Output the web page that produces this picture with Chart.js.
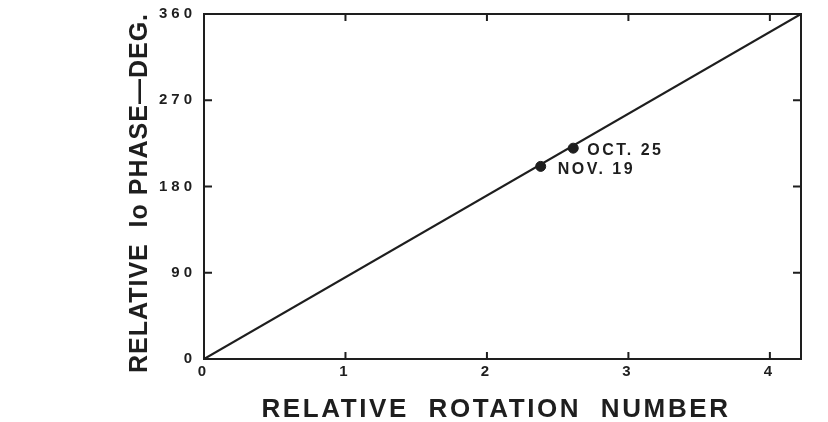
<!DOCTYPE html>
<html>
<head>
<meta charset="utf-8">
<script src="https://cdn.jsdelivr.net/npm/chart.js@4"></script>
<style>
  html, body { margin: 0; padding: 0; background: #fff; }
  #wrap { width: 828px; height: 422px; }
</style>
</head>
<body>
<div id="wrap"><canvas id="grafico" width="828" height="422"></canvas></div>
<script>
// datos
const rotationEnds = [0, 4.22];
const phaseEnds = [0, 360];
const obsLabels = ['NOV. 19', 'OCT. 25'];
const obsRotation = [2.38, 2.61];
const obsPhase = [201, 220];
const xTicks = [0, 1, 2, 3, 4];
const yTicks = [0, 90, 180, 270, 360];
const xTitle = 'RELATIVE  ROTATION  NUMBER';
const yTitle = 'RELATIVE  Io PHASE\u2014DEG.';

const ink = '#1e1e1e';
const fam = '"Liberation Sans", Arial, sans-serif';

// marco, marcas hacia dentro, rotulos y titulos
const decoPlugin = {
  id: 'deco',
  beforeDraw(chart) {
    chart.ctx.letterSpacing = '4px';
  },
  afterDraw(chart) {
    const ctx = chart.ctx;
    const a = chart.chartArea;
    const sx = chart.scales.x, sy = chart.scales.y;
    ctx.save();
    ctx.strokeStyle = ink;
    ctx.lineWidth = 2;
    ctx.strokeRect(a.left, a.top, a.right - a.left, a.bottom - a.top);
    ctx.beginPath();
    xTicks.slice(1).forEach(v => {
      const px = sx.getPixelForValue(v);
      ctx.moveTo(px, a.bottom); ctx.lineTo(px, a.bottom - 7);
      ctx.moveTo(px, a.top); ctx.lineTo(px, a.top + 7);
    });
    yTicks.slice(1, -1).forEach(v => {
      const py = sy.getPixelForValue(v);
      ctx.moveTo(a.left, py); ctx.lineTo(a.left + 8, py);
      ctx.moveTo(a.right, py); ctx.lineTo(a.right - 8, py);
    });
    ctx.stroke();

    ctx.fillStyle = ink;
    ctx.font = 'bold 16px ' + fam;
    ctx.letterSpacing = '2.5px';
    ctx.textBaseline = 'middle';
    ctx.textAlign = 'left';
    const offs = [[17, 3], [14, 2]];
    obsLabels.forEach((t, i) => {
      const px = sx.getPixelForValue(obsRotation[i]);
      const py = sy.getPixelForValue(obsPhase[i]);
      ctx.fillText(t, px + offs[i][0], py + offs[i][1]);
    });

    ctx.font = 'bold 26px ' + fam;
    ctx.textBaseline = 'alphabetic';
    ctx.letterSpacing = '2.6px';
    ctx.textAlign = 'center';
    ctx.fillText(xTitle, 496, 417);
    ctx.save();
    ctx.translate(147, 193);
    ctx.rotate(-Math.PI / 2);
    ctx.font = 'bold 25px ' + fam;
    ctx.letterSpacing = '1px';
    ctx.fillText(yTitle, 0, 0);
    ctx.restore();
    ctx.restore();
  }
};

const ctx = document.getElementById('grafico').getContext('2d');
new Chart(ctx, {
  type: 'scatter',
  data: {
    datasets: [
      {
        type: 'line',
        data: rotationEnds.map((x, i) => ({ x: x, y: phaseEnds[i] })),
        borderColor: ink,
        borderWidth: 2.2,
        pointRadius: 0,
        fill: false
      },
      {
        data: obsRotation.map((x, i) => ({ x: x, y: obsPhase[i] })),
        backgroundColor: ink,
        borderColor: ink,
        pointRadius: 5
      }
    ]
  },
  options: {
    responsive: false,
    animation: false,
    layout: { padding: { top: 14, right: 27, left: 0, bottom: 0 } },
    plugins: {
      legend: { display: false },
      tooltip: { enabled: false }
    },
    scales: {
      x: {
        type: 'linear',
        min: rotationEnds[0],
        max: rotationEnds[1],
        afterBuildTicks: s => { s.ticks = xTicks.map(v => ({ value: v })); },
        afterFit: s => { s.height = 63; },
        grid: { display: false, drawTicks: false },
        border: { display: false },
        ticks: {
          color: ink,
          padding: 4,
          font: { family: fam, size: 15, weight: 'bold' }
        }
      },
      y: {
        min: phaseEnds[0],
        max: phaseEnds[1],
        afterBuildTicks: s => { s.ticks = yTicks.map(v => ({ value: v })); },
        afterFit: s => { s.width = 204; s.paddingTop = 0; s.paddingBottom = 0; },
        grid: { display: false, drawTicks: false },
        border: { display: false },
        ticks: {
          color: ink,
          padding: 8,
          font: { family: fam, size: 15, weight: 'bold' }
        }
      }
    }
  },
  plugins: [decoPlugin]
});
</script>
</body>
</html>
